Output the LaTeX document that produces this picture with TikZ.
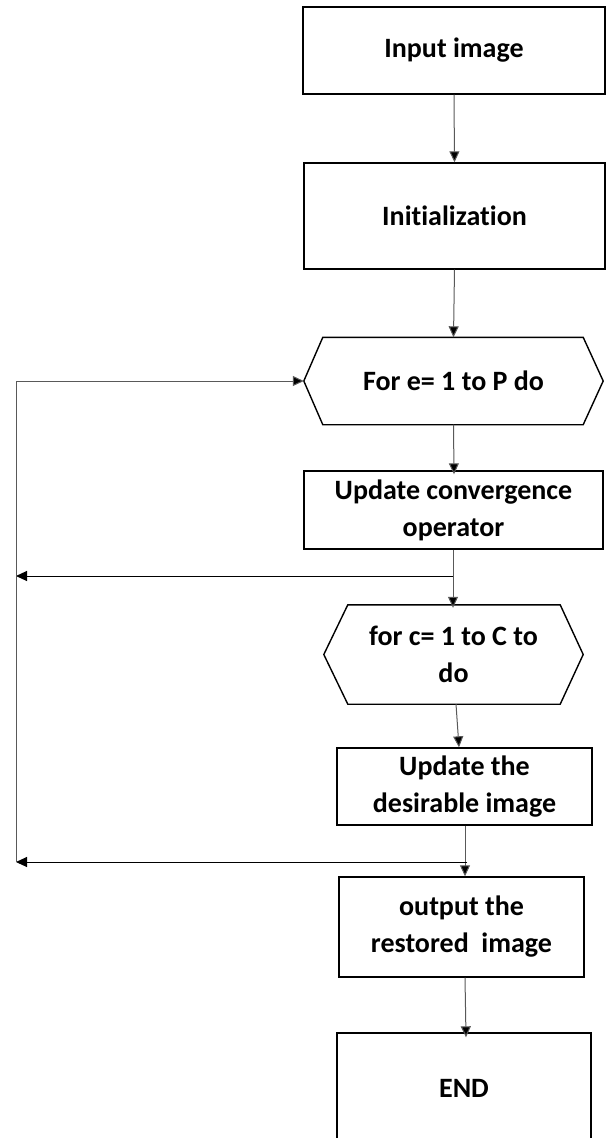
\documentclass[tikz,border=0pt]{standalone}
\usepackage{fontspec}
\setmainfont{Carlito}[Ligatures=NoCommon]
\usetikzlibrary{arrows.meta,calc}

\tikzset{
  box/.style={draw=black, line width=1.4pt, rectangle, align=center,
    inner sep=0pt, font=\bfseries\fontsize{28}{37}\selectfont},
  hexnode/.style={rectangle, align=center, inner sep=0pt,
    font=\bfseries\fontsize{28}{37}\selectfont},
  hexline/.style={draw=black, line width=1.4pt, line join=miter},
  conn/.style={draw=black!65, line width=1pt},
  arr/.style={conn, -{Triangle[length=11pt,width=10pt,fill=black]}},
}

\begin{document}
\begin{tikzpicture}[x=1pt,y=-1pt]
  \useasboundingbox (0,0) rectangle (606,1138);
  \clip (0,0) rectangle (606,1138);

  % process boxes
  \node[box, minimum width=302pt, minimum height=87pt] (inp) at (454,50.5) {Input image};
  \node[box, minimum width=301pt, minimum height=106pt] (init) at (454.5,216) {Initialization};

  % outer loop header
  \node[hexnode, minimum width=299pt, minimum height=87pt] (h1) at (453.5,381) {For e= 1 to P do};
  \draw[hexline] (h1.west) -- ([xshift=19pt]h1.north west) -- ([xshift=-20pt]h1.north east)
    -- (h1.east) -- ([xshift=-20pt]h1.south east) -- ([xshift=19pt]h1.south west) -- cycle;

  \node[box, minimum width=299pt, minimum height=78pt] (upd) at (453.5,510) {Update convergence\\operator};

  % inner loop header
  \node[hexnode, minimum width=259pt, minimum height=99pt] (h2) at (453.5,654.5) {for c= 1 to C to\\do};
  \draw[hexline] (h2.west) -- ([xshift=24pt]h2.north west) -- ([xshift=-23pt]h2.north east)
    -- (h2.east) -- ([xshift=-23pt]h2.south east) -- ([xshift=24pt]h2.south west) -- cycle;

  \node[box, minimum width=255pt, minimum height=77pt] (des) at (464.5,786.5) {Update the\\desirable image};
  \node[box, minimum width=245pt, minimum height=100pt] (out) at (461.5,927) {output the\\restored~ image};
  \node[box, minimum width=254pt, minimum height=110pt] (fin) at (464,1088) {END};

  % junctions of the feedback lines
  \coordinate (j1) at (453,576);
  \coordinate (j2) at (467,862);
  \coordinate (l1) at (16,576);
  \coordinate (l2) at (16,862);

  % main flow
  \draw[arr] (inp.south) -- (init.north);
  \draw[arr] (init.south) -- (h1.north);
  \draw[arr] (h1.south) -- ($(upd.north)+(0.5pt,-4pt)$);
  \draw[arr] ($(upd.south)+(-0.5pt,0)$) -- ($(h2.north)+(-0.5pt,-3pt)$);
  \draw[arr] ($(h2.south)+(2.5pt,0)$) -- ($(des.north)+(-5.5pt,0)$);
  \draw[arr] ($(des.south)+(0.5pt,0)$) -- ($(out.north)+(3.5pt,0)$);
  \draw[arr] ($(out.south)+(3.5pt,0)$) -- ($(fin.north)+(2pt,-5pt)$);

  % feedback to the outer loop
  \draw[arr, draw=black] (j1) -- (l1);
  \draw[arr, draw=black] (j2) -- (l2);
  \draw[arr] (l2) |- (h1.west);
\end{tikzpicture}
\end{document}
